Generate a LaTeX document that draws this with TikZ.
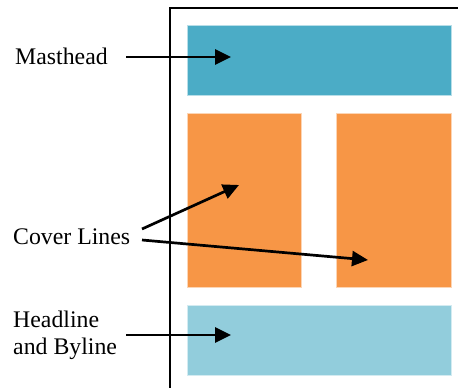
\documentclass[tikz,border=0pt]{standalone}
\usepackage{fontspec}
\setmainfont{Liberation Serif}
\usetikzlibrary{arrows.meta}
\definecolor{mastblue}{HTML}{4BACC6}
\definecolor{coverorange}{HTML}{F79646}
\definecolor{headblue}{HTML}{92CDDC}
\tikzset{
  label/.style={font=\fontsize{23.8}{27}\selectfont, inner sep=0pt, align=left},
  pointer/.style={line width=2.7pt, -{Triangle[length=16pt,width=15pt]}},
}
\begin{document}
\begin{tikzpicture}[x=1pt,y=-1pt]
  \useasboundingbox (0,0) rectangle (458,388);
  % page edge
  \draw[line width=1.2pt] (458,8) -- (170,8) -- (170,388);
  % layout blocks
  \fill[mastblue] (187,25) rectangle (451,95);
  \draw[mastblue!40!white, line width=0.8pt] (187,25) rectangle (451,95);
  \fill[coverorange] (187,113) rectangle (301,287);
  \draw[coverorange!40!white, line width=0.8pt] (187,113) rectangle (301,287);
  \fill[coverorange] (336,113) rectangle (451,287);
  \draw[coverorange!40!white, line width=0.8pt] (336,113) rectangle (451,287);
  \fill[headblue] (187,305) rectangle (451,375);
  \draw[headblue!40!white, line width=0.8pt] (187,305) rectangle (451,375);
  % arrow targets
  \coordinate (mast) at (231,57);
  \coordinate (coverA) at (239,185);
  \coordinate (coverB) at (368,260);
  \coordinate (head) at (231,335);
  % labels
  \node[label, anchor=west] (lmast) at (15,56) {Masthead};
  \node[label, anchor=west] (lcover) at (13,237) {Cover Lines};
  \node[label, anchor=west] (lhead) at (13,335) {Headline\\and Byline};
  % pointers
  \draw[pointer] (126,57) -- (mast);
  \draw[pointer] (142,229) -- (coverA);
  \draw[pointer] (142,240) -- (coverB);
  \draw[pointer] (126,335) -- (head);
\end{tikzpicture}
\end{document}
